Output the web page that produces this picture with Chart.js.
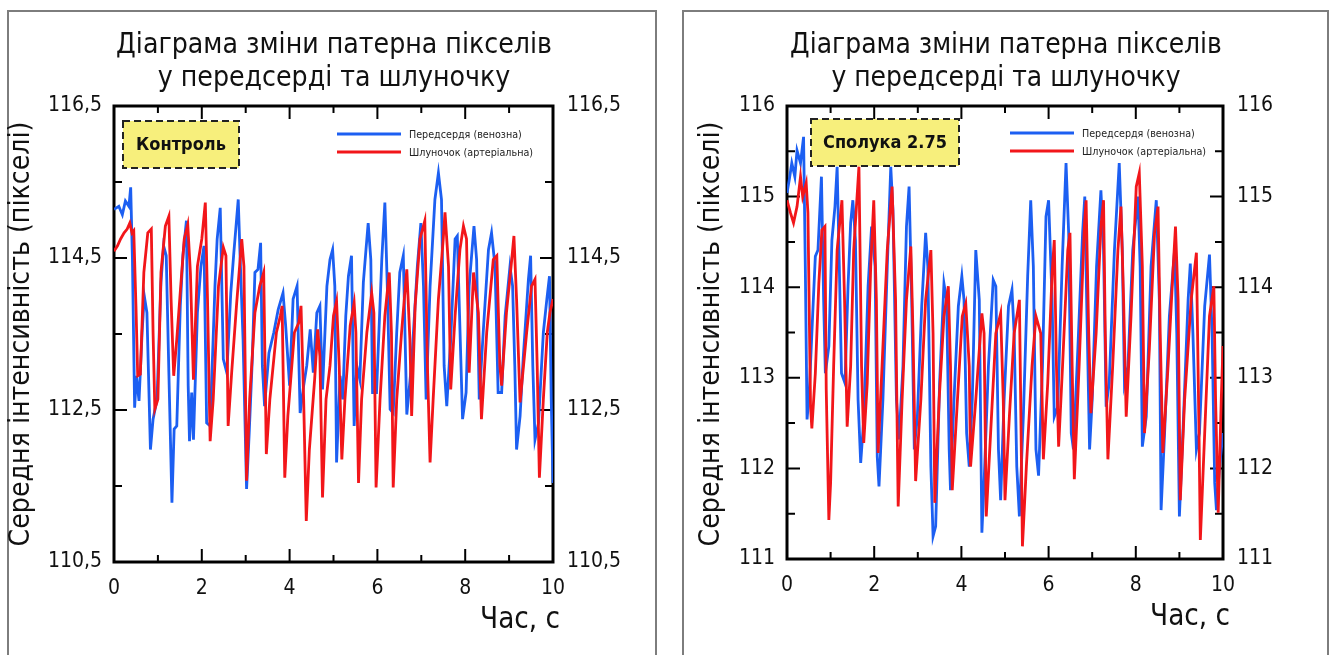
<!DOCTYPE html>
<html>
<head>
<meta charset="utf-8">
<script src="https://cdn.jsdelivr.net/npm/chart.js@4.4.1/dist/chart.umd.min.js"></script>
<style>
  body { margin: 0; background: #fff; width: 1334px; height: 655px; overflow: hidden; position: relative; }
  .panel { position: absolute; top: 10px; height: 680px; border: 2px solid #7d7d7d; box-sizing: border-box; }
  #p1 { left: 7px; width: 650px; }
  #p2 { left: 682px; width: 647px; }
  canvas { position: absolute; top: 0; }
  #c1 { left: 0; }
  #c2 { left: 667px; }
</style>
</head>
<body>
<div class="panel" id="p1"></div>
<div class="panel" id="p2"></div>
<canvas id="c1" width="667" height="655"></canvas>
<canvas id="c2" width="667" height="655"></canvas>
<script>
// --- data: [time s, mean intensity px] ---
const titleLines = ['Діаграма зміни патерна пікселів', 'у передсерді та шлуночку'];
const seriesNames = ['Передсердя (венозна)', 'Шлуночок (артеріальна)'];
const panelLabels = ['Контроль', 'Сполука 2.75'];
const yTitle = 'Середня інтенсивність (пікселі)';
const xTitle = 'Час, с';
const xTicks = [0, 2, 4, 6, 8, 10];
const yTicksCtrl = [110.5, 112.5, 114.5, 116.5];
const yTicksComp = [111, 112, 113, 114, 115, 116];

const ctrlAtrium = [
  [0,115.14],[0.11,115.18],[0.19,115.07],[0.26,115.25],[0.34,115.18],[0.38,115.43],[0.42,114.48],[0.47,112.53],
  [0.51,112.95],[0.57,112.62],[0.64,113.52],[0.69,114.0],[0.75,113.78],[0.83,111.98],[0.89,112.38],[0.98,112.64],
  [1.07,114.18],[1.13,114.66],[1.19,114.53],[1.25,112.99],[1.32,111.28],[1.37,112.25],[1.43,112.29],[1.51,113.87],
  [1.57,114.53],[1.65,114.99],[1.69,112.82],[1.72,112.09],[1.77,112.73],[1.81,112.11],[1.9,113.78],[1.98,114.39],
  [2.05,114.66],[2.11,112.33],[2.19,112.29],[2.3,114.13],[2.35,114.75],[2.42,115.16],[2.49,113.17],[2.57,112.99],
  [2.66,114.04],[2.73,114.57],[2.83,115.27],[2.88,114.39],[2.94,113.43],[3.02,111.46],[3.08,112.2],[3.15,113.17],
  [3.21,114.31],[3.28,114.35],[3.34,114.7],[3.38,113.08],[3.43,112.55],[3.53,113.25],[3.64,113.52],[3.74,113.82],
  [3.85,114.04],[3.91,113.61],[4.0,112.82],[4.08,113.96],[4.17,114.13],[4.24,112.46],[4.32,112.82],[4.39,113.08],
  [4.47,113.56],[4.54,112.99],[4.62,113.78],[4.69,113.87],[4.75,112.77],[4.85,114.13],[4.92,114.48],[4.98,114.61],
  [5.03,114.13],[5.07,111.81],[5.15,112.95],[5.21,112.64],[5.28,113.74],[5.34,114.26],[5.41,114.53],[5.47,112.29],
  [5.53,113.08],[5.6,112.9],[5.68,114.18],[5.74,114.61],[5.79,114.96],[5.85,114.48],[5.89,112.73],[5.98,112.73],
  [6.1,114.48],[6.17,115.23],[6.23,114.04],[6.29,112.51],[6.36,112.46],[6.44,113.52],[6.51,114.31],[6.59,114.53],
  [6.67,112.44],[6.78,113.12],[6.91,114.39],[6.99,114.96],[7.05,114.13],[7.11,112.64],[7.2,114.13],[7.31,115.27],
  [7.39,115.62],[7.46,115.27],[7.52,113.08],[7.58,112.55],[7.67,113.43],[7.77,114.75],[7.82,114.79],[7.9,113.17],
  [7.94,112.38],[8.02,112.73],[8.09,114.13],[8.2,114.92],[8.26,114.48],[8.32,112.64],[8.41,113.52],[8.53,114.61],
  [8.6,114.83],[8.68,114.39],[8.75,112.73],[8.83,112.73],[8.91,113.74],[9.02,114.39],[9.08,114.13],[9.13,113.08],
  [9.17,111.98],[9.25,112.42],[9.32,113.17],[9.44,114.22],[9.49,114.53],[9.54,113.08],[9.59,112.11],[9.67,112.33],
  [9.78,113.52],[9.86,113.96],[9.92,114.26],[9.96,112.64],[10,111.54]
];
const ctrlVentricle = [
  [0,114.59],[0.08,114.66],[0.15,114.75],[0.23,114.83],[0.3,114.88],[0.36,114.96],[0.41,114.83],[0.45,114.86],
  [0.5,113.87],[0.54,112.95],[0.6,112.97],[0.68,114.31],[0.77,114.83],[0.85,114.88],[0.89,113.52],[0.93,112.51],
  [1.0,112.64],[1.07,114.31],[1.17,114.92],[1.25,115.05],[1.3,113.96],[1.36,112.95],[1.43,113.43],[1.52,114.13],
  [1.6,114.75],[1.68,114.94],[1.74,114.31],[1.81,112.9],[1.9,114.39],[2.0,114.75],[2.08,115.23],[2.13,113.96],
  [2.19,112.09],[2.26,112.64],[2.38,114.13],[2.49,114.64],[2.55,114.53],[2.6,112.29],[2.68,112.99],[2.79,113.87],
  [2.91,114.75],[2.96,114.39],[3.02,111.57],[3.09,112.64],[3.21,113.78],[3.32,114.13],[3.41,114.31],[3.47,111.92],
  [3.55,112.64],[3.7,113.52],[3.79,113.74],[3.83,113.87],[3.89,111.61],[3.96,112.42],[4.11,113.52],[4.21,113.65],
  [4.26,113.87],[4.32,112.64],[4.38,111.04],[4.45,111.98],[4.57,112.9],[4.64,113.56],[4.69,113.21],[4.75,111.35],
  [4.83,112.64],[4.92,113.08],[5.0,113.74],[5.07,113.93],[5.13,113.08],[5.19,111.85],[5.26,112.64],[5.38,113.61],
  [5.47,113.91],[5.51,113.52],[5.57,111.54],[5.64,112.64],[5.76,113.52],[5.87,114.04],[5.92,113.78],[5.97,111.48],
  [6.06,112.64],[6.17,113.74],[6.27,114.31],[6.32,113.52],[6.36,111.48],[6.44,112.64],[6.55,113.52],[6.67,114.35],
  [6.74,113.43],[6.78,112.42],[6.86,113.87],[6.97,114.75],[7.08,114.99],[7.14,113.08],[7.2,111.81],[7.27,112.64],
  [7.39,113.96],[7.5,114.75],[7.54,115.1],[7.62,114.39],[7.67,112.77],[7.77,113.74],[7.88,114.61],[7.96,114.92],
  [8.03,114.75],[8.09,112.99],[8.19,114.31],[8.3,113.78],[8.37,112.38],[8.49,113.52],[8.64,114.48],[8.72,114.53],
  [8.79,113.08],[8.83,112.82],[8.94,113.78],[9.06,114.48],[9.11,114.79],[9.17,113.96],[9.25,112.6],[9.4,113.52],
  [9.51,114.13],[9.59,114.22],[9.64,113.08],[9.69,111.61],[9.78,112.64],[9.87,113.52],[9.93,113.78],[10,113.96]
];
const compAtrium = [
  [0,115.04],[0.05,115.18],[0.11,115.37],[0.18,115.22],[0.23,115.51],[0.31,115.37],[0.38,115.66],[0.42,114.23],
  [0.46,112.54],[0.51,112.83],[0.59,113.71],[0.65,114.34],[0.71,114.41],[0.79,115.22],[0.84,113.86],[0.88,113.05],
  [0.96,113.35],[1.03,114.52],[1.1,114.89],[1.15,115.33],[1.2,114.23],[1.25,113.05],[1.33,112.94],[1.4,114.01],
  [1.46,114.71],[1.51,114.96],[1.57,114.52],[1.63,112.76],[1.69,112.06],[1.76,112.54],[1.86,114.01],[1.94,114.67],
  [2.02,114.23],[2.07,112.13],[2.11,111.8],[2.2,112.76],[2.3,114.23],[2.38,115.33],[2.43,114.85],[2.51,112.76],
  [2.57,112.32],[2.66,113.13],[2.74,114.67],[2.8,115.11],[2.86,113.86],[2.92,112.21],[2.99,112.57],[3.09,113.79],
  [3.18,114.6],[3.23,114.23],[3.3,112.02],[3.35,111.25],[3.41,111.36],[3.5,112.94],[3.6,114.04],[3.66,113.86],
  [3.72,112.21],[3.75,111.76],[3.83,112.76],[3.93,113.79],[4.01,114.12],[4.06,113.86],[4.12,112.39],[4.18,112.02],
  [4.25,112.76],[4.33,114.41],[4.41,113.86],[4.47,111.29],[4.52,111.84],[4.62,113.13],[4.73,114.08],[4.79,114.01],
  [4.85,112.21],[4.9,111.65],[4.98,112.76],[5.08,113.79],[5.16,113.97],[5.21,113.49],[5.27,112.02],[5.33,111.47],
  [5.42,112.57],[5.52,114.12],[5.59,114.96],[5.65,114.23],[5.71,112.21],[5.77,111.92],[5.86,113.13],[5.94,114.78],
  [6.0,114.96],[6.08,113.86],[6.13,112.57],[6.21,112.68],[6.31,114.23],[6.4,115.37],[6.46,114.6],[6.52,112.39],
  [6.57,112.21],[6.67,113.31],[6.78,114.6],[6.83,115.0],[6.88,113.68],[6.94,112.21],[7.0,112.76],[7.1,114.23],
  [7.2,115.07],[7.26,114.41],[7.32,112.68],[7.39,112.94],[7.51,114.41],[7.62,115.37],[7.69,114.41],[7.74,112.94],
  [7.82,113.13],[7.93,114.41],[8.05,115.0],[8.1,114.23],[8.15,112.24],[8.24,112.57],[8.35,114.23],[8.47,114.96],
  [8.54,113.86],[8.58,111.54],[8.66,112.39],[8.77,113.68],[8.89,114.41],[8.94,113.49],[9.0,111.47],[9.08,112.39],
  [9.2,113.86],[9.25,114.26],[9.31,113.49],[9.39,112.21],[9.46,112.39],[9.58,113.79],[9.69,114.36],[9.75,113.49],
  [9.81,111.84],[9.85,111.54],[9.92,112.02],[10,112.39]
];
const compVentricle = [
  [0,114.96],[0.08,114.82],[0.15,114.71],[0.23,114.89],[0.31,115.22],[0.36,115.0],[0.44,115.15],[0.48,114.82],
  [0.54,112.68],[0.57,112.44],[0.65,113.05],[0.73,114.04],[0.8,114.63],[0.87,114.67],[0.9,112.87],[0.96,111.43],
  [1.0,111.84],[1.07,113.13],[1.15,114.41],[1.26,114.96],[1.32,113.86],[1.38,112.46],[1.46,113.13],[1.53,114.41],
  [1.65,115.33],[1.71,113.13],[1.76,112.28],[1.84,112.94],[1.92,114.23],[1.99,114.96],[2.05,113.86],[2.09,112.17],
  [2.18,113.13],[2.3,114.41],[2.41,115.11],[2.49,113.86],[2.55,111.58],[2.64,112.76],[2.74,113.86],[2.84,114.45],
  [2.89,113.49],[2.95,111.86],[3.07,112.76],[3.18,113.86],[3.3,114.41],[3.35,113.49],[3.39,111.62],[3.49,112.76],
  [3.6,113.68],[3.7,114.01],[3.75,113.13],[3.79,111.76],[3.91,112.76],[4.02,113.68],[4.1,113.82],[4.18,113.13],
  [4.21,112.02],[4.33,112.76],[4.47,113.71],[4.52,113.49],[4.57,111.47],[4.67,112.39],[4.79,113.49],[4.9,113.71],
  [4.96,112.76],[5.0,111.65],[5.1,112.57],[5.21,113.49],[5.33,113.86],[5.36,112.76],[5.4,111.14],[5.49,112.02],
  [5.62,113.13],[5.71,113.68],[5.82,113.49],[5.88,112.1],[5.98,112.94],[6.08,114.15],[6.13,114.52],[6.18,113.13],
  [6.23,112.24],[6.32,113.13],[6.44,114.41],[6.49,114.6],[6.54,113.13],[6.59,111.88],[6.7,113.13],[6.82,114.67],
  [6.86,114.96],[6.92,113.49],[6.97,112.61],[7.09,113.49],[7.2,114.67],[7.26,114.96],[7.3,113.49],[7.36,112.1],
  [7.47,113.13],[7.59,114.41],[7.66,114.89],[7.72,113.86],[7.78,112.57],[7.89,113.68],[8.01,115.11],[8.08,115.26],
  [8.15,114.23],[8.2,112.39],[8.31,113.31],[8.43,114.6],[8.51,114.89],[8.56,113.49],[8.62,112.17],[8.74,113.13],
  [8.85,114.15],[8.91,114.67],[8.97,113.86],[9.02,111.65],[9.12,112.76],[9.27,113.86],[9.39,114.38],[9.45,112.39],
  [9.48,111.21],[9.58,112.39],[9.69,113.68],[9.79,114.01],[9.83,112.76],[9.89,111.51],[9.96,112.76],[10,113.35]
];

const BLUE = '#1c5ff2';
const RED = '#f2161a';
const FONT = 'DejaVu Sans Condensed';

function fmt(v) {
  return Number.isInteger(v) ? String(v) : v.toFixed(1).replace('.', ',');
}

function fitSize(ctx, text, font, width) {
  ctx.font = font.replace('#', '100px');
  return 100 * width / ctx.measureText(text).width;
}

const decor = {
  id: 'decor',
  beforeDatasetsDraw(chart, args, o) {
    const { ctx, chartArea: a, scales } = chart;
    ctx.save();
    ctx.strokeStyle = '#000';
    ctx.lineWidth = 2;
    ctx.beginPath();
    for (let v = 0; v <= 10; v++) {
      const x = scales.x.getPixelForValue(v);
      const len = v % 2 === 0 ? 13 : 7;
      ctx.moveTo(x, a.bottom); ctx.lineTo(x, a.bottom - len);
      ctx.moveTo(x, a.top); ctx.lineTo(x, a.top + len);
    }
    const yt = o.yTicks;
    for (let v = yt[0]; v <= yt[yt.length - 1] + 1e-6; v += o.minorStep) {
      const y = scales.y.getPixelForValue(v);
      const major = yt.some(t => Math.abs(t - v) < 1e-6);
      const len = major ? 13 : 8;
      ctx.moveTo(a.left, y); ctx.lineTo(a.left + len, y);
      ctx.moveTo(a.right, y); ctx.lineTo(a.right - len, y);
    }
    ctx.stroke();
    ctx.lineWidth = 3;
    ctx.strokeRect(a.left, a.top, a.right - a.left, a.bottom - a.top);
    ctx.restore();
  },
  afterDraw(chart, args, o) {
    const { ctx } = chart;
    ctx.save();
    ctx.fillStyle = '#111';
    // title
    const ts = fitSize(ctx, titleLines[0], `# "${FONT}"`, o.titleWidth);
    ctx.font = `${ts}px "${FONT}"`;
    ctx.textAlign = 'center';
    ctx.textBaseline = 'alphabetic';
    ctx.fillText(titleLines[0], o.titleX, 53);
    ctx.fillText(titleLines[1], o.titleX, 86);
    // y title
    const ys = fitSize(ctx, yTitle, `# "${FONT}"`, 425);
    ctx.save();
    ctx.translate(o.yTitleX, 334);
    ctx.rotate(-Math.PI / 2);
    ctx.font = `${ys}px "${FONT}"`;
    ctx.textBaseline = 'middle';
    ctx.fillText(yTitle, 0, 0);
    ctx.restore();
    // x title
    const xs = fitSize(ctx, xTitle, `# "${FONT}"`, 80);
    ctx.font = `${xs}px "${FONT}"`;
    ctx.textAlign = 'right';
    ctx.fillText(xTitle, o.xTitleRight, o.xTitleBase);
    // legend
    const ls = fitSize(ctx, seriesNames[0], `# "${FONT}"`, o.legendTextW);
    ctx.font = `${ls}px "${FONT}"`;
    ctx.textAlign = 'left';
    ctx.textBaseline = 'middle';
    chart.data.datasets.forEach((ds, i) => {
      const y = o.legendY + i * 18;
      ctx.strokeStyle = ds.borderColor;
      ctx.lineWidth = 3;
      ctx.beginPath();
      ctx.moveTo(o.legendX, y); ctx.lineTo(o.legendX + 64, y);
      ctx.stroke();
      ctx.fillStyle = '#222';
      ctx.fillText(ds.label, o.legendX + 72, y + 1);
    });
    // label box
    const b = o.box;
    ctx.fillStyle = '#f7ef7c';
    ctx.fillRect(b[0], b[1], b[2], b[3]);
    ctx.setLineDash([7, 4]);
    ctx.strokeStyle = '#222';
    ctx.lineWidth = 2;
    ctx.strokeRect(b[0], b[1], b[2], b[3]);
    ctx.setLineDash([]);
    const bs = fitSize(ctx, o.label, `bold # "${FONT}"`, o.labelW);
    ctx.font = `bold ${bs}px "${FONT}"`;
    ctx.fillStyle = '#111';
    ctx.textAlign = 'center';
    ctx.fillText(o.label, b[0] + b[2] / 2, b[1] + b[3] / 2 + 1);
    ctx.restore();
  }
};

function yScale(yTicks, pos, width, pad) {
  return {
    type: 'linear', position: pos,
    min: yTicks[0], max: yTicks[yTicks.length - 1],
    afterBuildTicks: s => { s.ticks = yTicks.map(v => ({ value: v })); },
    afterFit: s => { s.width = width; },
    grid: { display: false, drawTicks: false },
    border: { display: false },
    ticks: { padding: pad, color: '#111', font: { family: FONT, size: 21 }, callback: v => fmt(v) }
  };
}

function makeChart(id, atrium, ventricle, yTicks, o) {
  return new Chart(document.getElementById(id), {
    type: 'line',
    data: {
      datasets: [
        { label: seriesNames[0], data: atrium.map(p => ({ x: p[0], y: p[1] })), borderColor: BLUE, order: 2 },
        { label: seriesNames[1], data: ventricle.map(p => ({ x: p[0], y: p[1] })), borderColor: RED, order: 1 }
      ]
    },
    options: {
      responsive: false,
      animation: false,
      devicePixelRatio: 1,
      layout: { padding: { top: 106, left: 0, right: 0, bottom: 0 } },
      elements: { point: { radius: 0 }, line: { borderWidth: 2.8, tension: 0 } },
      plugins: { legend: { display: false }, title: { display: false }, tooltip: { enabled: false }, decor: o },
      scales: {
        x: {
          type: 'linear', min: 0, max: 10,
          afterBuildTicks: s => { s.ticks = xTicks.map(v => ({ value: v })); },
          afterFit: s => { s.height = o.xHeight; },
          grid: { display: false, drawTicks: false },
          border: { display: false },
          ticks: { padding: 14, color: '#111', font: { family: FONT, size: 21 } }
        },
        y: yScale(yTicks, 'left', o.yLeftW, 12),
        y2: yScale(yTicks, 'right', o.yRightW, 14)
      }
    },
    plugins: [decor]
  });
}

makeChart('c1', ctrlAtrium, ctrlVentricle, yTicksCtrl, {
  yTicks: yTicksCtrl, minorStep: 1, yLeftW: 114, yRightW: 114, xHeight: 93,
  titleX: 334, titleWidth: 436, yTitleX: 22, xTitleRight: 560, xTitleBase: 628,
  legendX: 337, legendY: 134, legendTextW: 113,
  box: [123, 121, 116, 47], label: panelLabels[0], labelW: 90
});
makeChart('c2', compAtrium, compVentricle, yTicksComp, {
  yTicks: yTicksComp, minorStep: 0.5, yLeftW: 120, yRightW: 111, xHeight: 96,
  titleX: 339, titleWidth: 432, yTitleX: 45, xTitleRight: 563, xTitleBase: 625,
  legendX: 343, legendY: 133, legendTextW: 113,
  box: [144, 119, 148, 47], label: panelLabels[1], labelW: 124
});
</script>
</body>
</html>
